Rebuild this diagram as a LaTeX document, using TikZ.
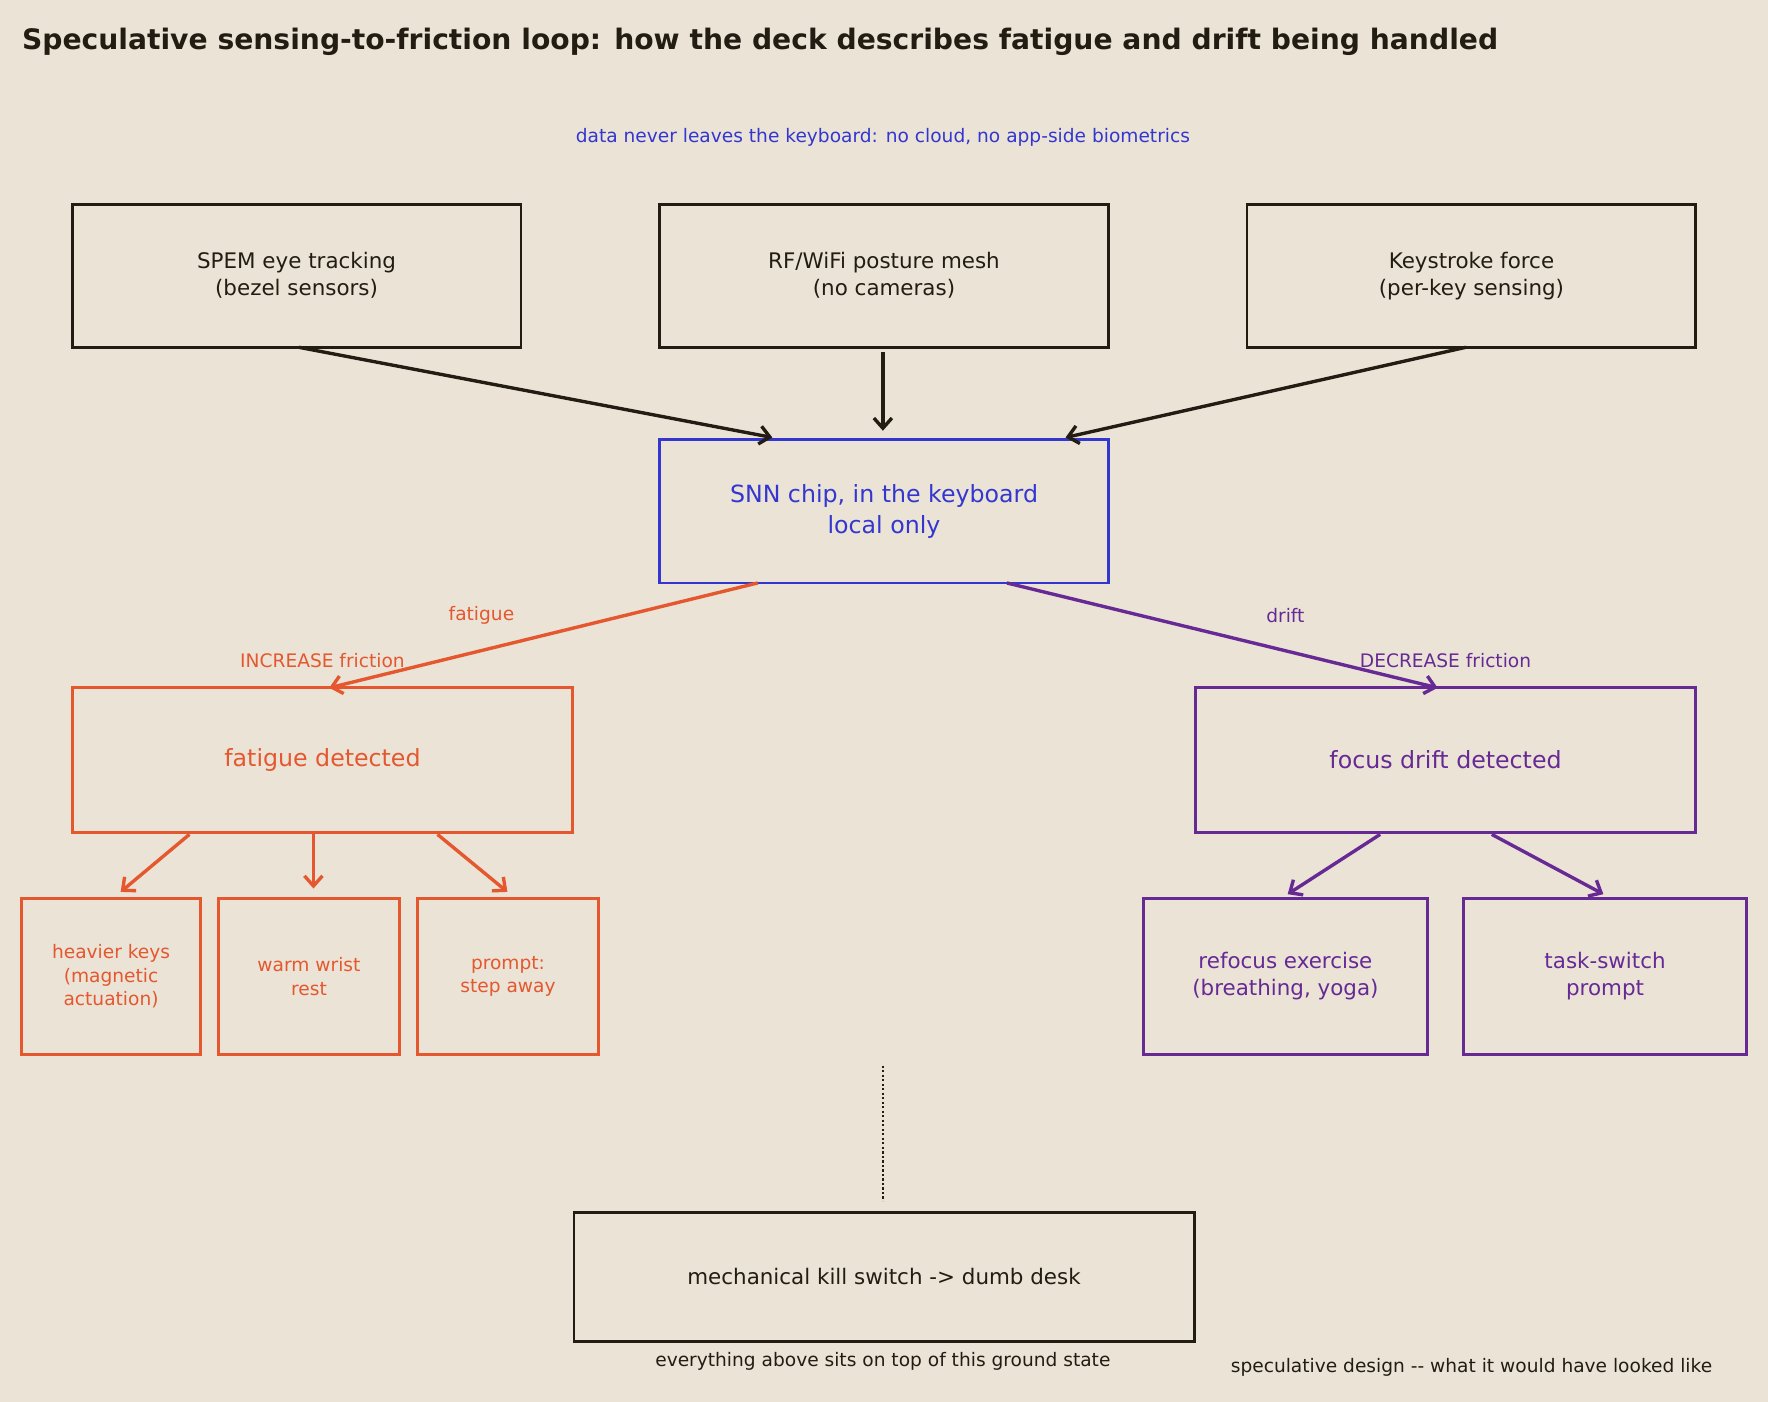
\documentclass[tikz,border=0pt]{standalone}
\usepackage{fontspec}
\setmainfont{DejaVu Sans}
\usetikzlibrary{arrows.meta}
\definecolor{bg}{HTML}{EAE3D6}
\definecolor{dk}{HTML}{231C12}
\definecolor{bl}{HTML}{3337D0}
\definecolor{og}{HTML}{E5572E}
\definecolor{pu}{HTML}{672A95}
\begin{document}
\begin{tikzpicture}[x=1pt,y=-1pt,
 box/.style={draw,line width=2.5pt,align=center,inner sep=0pt},
 arr/.style={line width=3pt,-{Straight Barb[length=9pt,width=16pt,line width=3pt]}},
 f/.style={font=\fontsize{19}{24}\selectfont},
 fs/.style={font=\fontsize{16.5}{21}\selectfont},
 fl/.style={font=\fontsize{21}{27}\selectfont}]
\fill[bg] (0,0) rectangle (1568,1243);
\useasboundingbox (0,0) rectangle (1568,1243);
\node[anchor=west,text=dk,font=\fontsize{25}{30}\selectfont\bfseries] (title) at (16,37) {Speculative sensing-to-friction loop: how the deck describes fatigue and drift being handled};
\node[text=bl,fs] (sub) at (783,122) {data never leaves the keyboard: no cloud, no app-side biometrics};
\node[box,dk,text=dk,f,minimum width=398pt,minimum height=127pt] (spem) at (263,244.5) {SPEM eye tracking\\(bezel sensors)};
\node[box,dk,text=dk,f,minimum width=398pt,minimum height=127pt] (rf) at (784,244.5) {RF/WiFi posture mesh\\(no cameras)};
\node[box,dk,text=dk,f,minimum width=398pt,minimum height=127pt] (key) at (1305,244.5) {Keystroke force\\(per-key sensing)};
\node[box,bl,text=bl,fl,minimum width=398pt,minimum height=127pt] (snn) at (784,453.5) {SNN chip, in the keyboard\\local only};
\node[box,og,text=og,fl,minimum width=444pt,minimum height=128pt] (fat) at (286,674) {fatigue detected};
\node[box,pu,text=pu,fl,minimum width=444pt,minimum height=128pt] (foc) at (1282,674) {focus drift detected};
\node[box,og,text=og,fs,minimum width=159pt,minimum height=138pt] (s1) at (98.5,866) {heavier keys\\(magnetic\\actuation)};
\node[box,og,text=og,fs,minimum width=160pt,minimum height=138pt] (s2) at (274,866) {warm wrist\\rest};
\node[box,og,text=og,fs,minimum width=161pt,minimum height=138pt] (s3) at (450.5,866) {prompt:\\step away};
\node[box,pu,text=pu,f,minimum width=252pt,minimum height=138pt] (s4) at (1140,866) {refocus exercise\\(breathing, yoga)};
\node[box,pu,text=pu,f,minimum width=251pt,minimum height=138pt] (s5) at (1423.5,866) {task-switch\\prompt};
\node[box,dk,text=dk,f,minimum width=550pt,minimum height=115pt] (kill) at (784,1132.5) {mechanical kill switch -> dumb desk};
\node[text=dk,fs] (cap) at (783,1207) {everything above sits on top of this ground state};
\node[text=dk,fs] (foot) at (1305,1213) {speculative design {-}{-} what it would have looked like};
\node[text=og,fs] (l1) at (427,546) {fatigue};
\node[text=og,fs] (l2) at (286,586) {INCREASE friction};
\node[text=pu,fs] (l3) at (1140,546) {drift};
\node[text=pu,fs] (l4) at (1282,586) {DECREASE friction};
\coordinate (d1) at (783,945); \coordinate (d2) at (783,1065);
\draw[dk,line width=2pt,dotted] (d1) -- (d2);
\draw[arr,dk] (265,308) -- (685,388);
\draw[arr,dk] (783,312) -- (783,382);
\draw[arr,dk] (1300,308) -- (945,388);
\draw[arr,og] (672,517) -- (292,610);
\draw[arr,pu] (893,517) -- (1275,610);
\draw[arr,og] (168,740) -- (107,791);
\draw[arr,og] (278,740) -- (278,788);
\draw[arr,og] (388,740) -- (450,791);
\draw[arr,pu] (1224,740) -- (1142,793);
\draw[arr,pu] (1323,740) -- (1422,793);
\end{tikzpicture}
\end{document}
